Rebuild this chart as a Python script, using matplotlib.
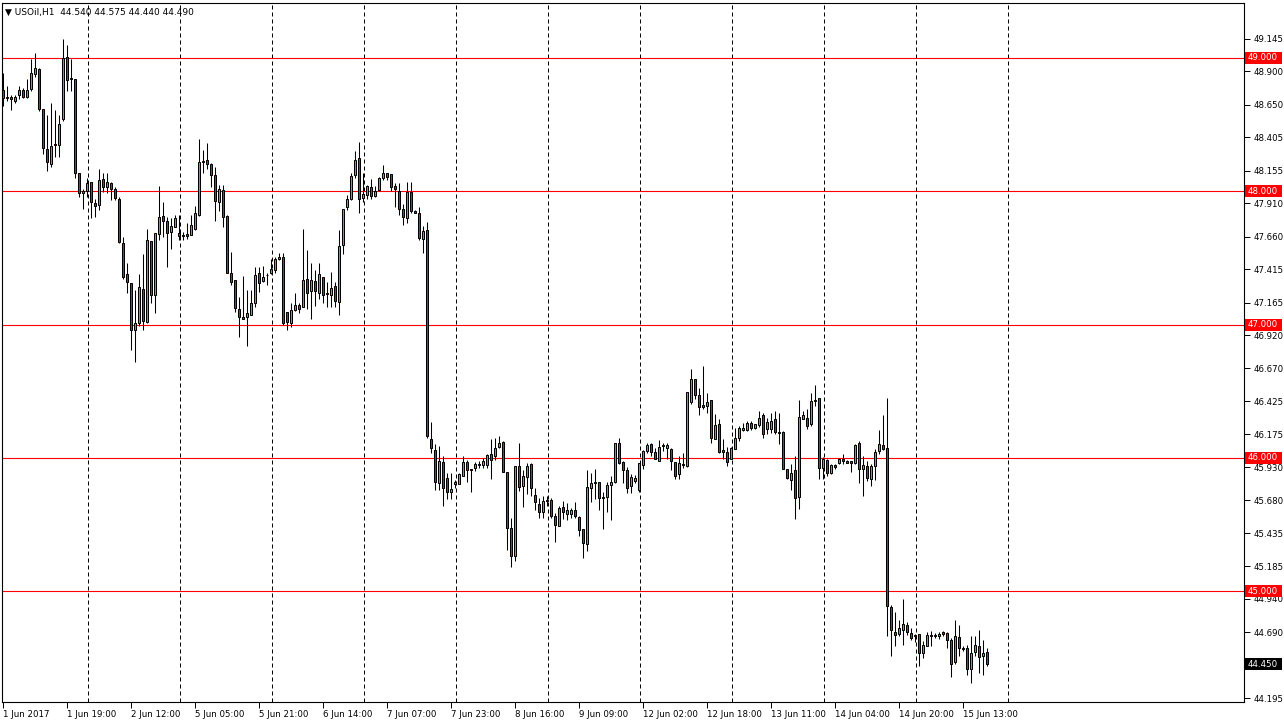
import numpy as np
import matplotlib
matplotlib.use("Agg")
import matplotlib.pyplot as plt
from matplotlib.patches import Rectangle

# ---------------- data (USOil H1) ----------------
opens = [48.76, 48.70, 48.705, 48.68, 48.72, 48.76, 48.71, 48.77, 48.88, 48.92,
         48.62, 48.32, 48.205, 48.355, 48.35, 48.54, 49.005, 48.85, 48.84, 48.135,
         47.99, 48.00, 48.07, 47.915, 47.90, 48.09, 48.035, 48.065, 48.015, 47.945,
         47.615, 47.38, 47.315, 46.955, 47.01, 47.27, 47.02, 47.625, 47.225, 47.68,
         47.815, 47.78, 47.695, 47.735, 47.69, 47.675, 47.68, 47.675, 47.715, 47.82,
         48.22, 48.235, 48.205, 48.12, 47.92, 48.01, 47.815, 47.385, 47.335, 47.12,
         47.06, 47.055, 47.075, 47.165, 47.39, 47.33, 47.375, 47.385, 47.41, 47.495,
         47.51, 47.095, 47.01, 47.11, 47.145, 47.135, 47.345, 47.25, 47.33, 47.24,
         47.355, 47.24, 47.22, 47.29, 47.17, 47.595, 47.88, 47.945, 48.12, 48.25,
         47.95, 47.97, 48.035, 47.965, 48.01, 48.10, 48.135, 48.13, 48.04, 48.005,
         47.87, 47.80, 47.995, 47.85, 47.84, 47.64, 47.71, 46.14, 46.06, 45.81,
         45.97, 45.85, 45.74, 45.80, 45.80, 45.865, 45.97, 45.915, 45.92, 45.945,
         45.945, 45.945, 46.03, 46.01, 46.08, 46.12, 45.89, 45.475, 45.265, 45.94,
         45.79, 45.855, 45.95, 45.72, 45.655, 45.595, 45.68, 45.685, 45.565, 45.49,
         45.632, 45.58, 45.575, 45.608, 45.558, 45.463, 45.35, 45.775, 45.808, 45.82,
         45.705, 45.708, 45.793, 45.818, 46.108, 45.97, 45.905, 45.788, 45.825, 45.758,
         45.943, 46.05, 46.10, 46.043, 45.975, 46.09, 46.073, 46.063, 45.97, 45.875,
         45.955, 45.938, 46.418, 46.588, 46.468, 46.393, 46.388, 46.43, 46.143, 46.25,
         46.058, 46.045, 45.993, 46.068, 46.145, 46.208, 46.208, 46.258, 46.225, 46.243,
         46.318, 46.218, 46.213, 46.288, 46.193, 46.193, 45.913, 45.833, 45.908, 45.708,
         46.293, 46.30, 46.25, 46.433, 46.45, 45.925, 45.983, 45.883, 45.943, 45.958,
         45.988, 45.973, 45.973, 45.958, 46.113, 45.912, 45.937, 45.842, 45.937, 46.05,
         46.093, 46.075, 44.88, 44.692, 44.679, 44.709, 44.747, 44.684, 44.667, 44.677,
         44.534, 44.589, 44.659, 44.667, 44.659, 44.692, 44.684, 44.634, 44.464, 44.654,
         44.571, 44.571, 44.414, 44.539, 44.589, 44.509, 44.54]
highs = [48.89, 48.79, 48.72, 48.725, 48.79, 48.775, 48.84, 48.99, 49.04, 48.925,
         48.62, 48.57, 48.66, 48.61, 48.575, 49.14, 49.10, 48.99, 48.84, 48.135,
         48.02, 48.10, 48.07, 47.94, 48.165, 48.135, 48.135, 48.07, 48.03, 47.96,
         47.655, 47.46, 47.315, 47.26, 47.38, 47.53, 47.715, 47.625, 47.685, 48.04,
         47.92, 47.805, 47.80, 47.82, 47.82, 47.695, 47.76, 47.82, 47.89, 48.39,
         48.31, 48.365, 48.21, 48.185, 48.05, 48.05, 47.82, 47.545, 47.335, 47.21,
         47.365, 47.26, 47.26, 47.435, 47.435, 47.44, 47.385, 47.49, 47.51, 47.54,
         47.54, 47.095, 47.165, 47.235, 47.165, 47.715, 47.56, 47.46, 47.41, 47.465,
         47.355, 47.32, 47.395, 47.32, 47.71, 47.87, 47.97, 48.14, 48.30, 48.37,
         48.135, 48.05, 48.09, 48.04, 48.11, 48.20, 48.14, 48.13, 48.06, 48.06,
         47.905, 48.07, 48.07, 47.86, 47.885, 47.74, 47.77, 46.265, 46.10, 46.09,
         46.01, 45.885, 45.885, 45.83, 45.885, 46.015, 45.985, 45.915, 45.97, 45.975,
         46.00, 46.03, 46.14, 46.15, 46.16, 46.125, 45.895, 45.55, 45.94, 46.11,
         45.91, 45.96, 45.96, 45.775, 45.70, 45.71, 45.71, 45.70, 45.585, 45.64,
         45.675, 45.66, 45.62, 45.668, 45.563, 45.463, 45.908, 45.883, 45.913, 45.82,
         45.74, 45.818, 45.863, 46.108, 46.15, 45.975, 45.93, 45.875, 45.868, 45.958,
         46.058, 46.108, 46.108, 46.075, 46.133, 46.108, 46.113, 46.075, 45.97, 46.013,
         46.038, 46.493, 46.663, 46.588, 46.525, 46.688, 46.488, 46.43, 46.325, 46.288,
         46.138, 46.083, 46.083, 46.225, 46.238, 46.263, 46.275, 46.275, 46.255, 46.35,
         46.333, 46.30, 46.338, 46.35, 46.338, 46.20, 45.918, 45.95, 46.013, 46.433,
         46.35, 46.368, 46.483, 46.543, 46.45, 46.008, 45.988, 45.95, 45.95, 46.00,
         46.025, 45.985, 45.975, 46.10, 46.125, 46.013, 45.975, 45.95, 46.063, 46.208,
         46.318, 46.451, 44.897, 44.84, 44.78, 44.942, 44.764, 44.722, 44.68, 44.677,
         44.622, 44.689, 44.697, 44.685, 44.692, 44.697, 44.689, 44.647, 44.784, 44.747,
         44.59, 44.596, 44.659, 44.659, 44.709, 44.634, 44.575]
lows = [48.64, 48.675, 48.61, 48.66, 48.69, 48.70, 48.70, 48.75, 48.86, 48.60,
        48.28, 48.15, 48.18, 48.26, 48.26, 48.53, 48.75, 48.75, 48.10, 47.96,
        47.87, 47.96, 47.80, 47.81, 47.86, 47.995, 47.985, 47.935, 47.935, 47.61,
        47.34, 47.24, 46.81, 46.715, 46.99, 46.96, 47.01, 47.16, 47.09, 47.635,
        47.66, 47.435, 47.565, 47.735, 47.635, 47.635, 47.645, 47.67, 47.71, 47.815,
        48.135, 48.17, 48.035, 47.78, 47.85, 47.73, 47.385, 47.30, 47.095, 46.905,
        47.045, 46.84, 47.07, 47.13, 47.245, 47.32, 47.295, 47.38, 47.39, 47.485,
        46.995, 46.96, 46.98, 47.105, 47.09, 47.135, 47.12, 47.045, 47.14, 47.195,
        47.16, 47.13, 47.13, 47.13, 47.07, 47.53, 47.86, 47.935, 48.10, 47.84,
        47.92, 47.945, 47.945, 47.96, 48.00, 48.085, 48.085, 48.005, 47.885, 47.82,
        47.75, 47.76, 47.835, 47.835, 47.635, 47.54, 46.15, 46.035, 45.755, 45.76,
        45.635, 45.69, 45.69, 45.77, 45.80, 45.86, 45.815, 45.74, 45.90, 45.925,
        45.925, 45.92, 45.84, 45.985, 46.075, 45.89, 45.31, 45.18, 45.225, 45.75,
        45.63, 45.725, 45.71, 45.61, 45.55, 45.55, 45.64, 45.55, 45.37, 45.49,
        45.54, 45.53, 45.55, 45.55, 45.413, 45.25, 45.30, 45.668, 45.688, 45.608,
        45.468, 45.593, 45.533, 45.813, 45.95, 45.808, 45.738, 45.738, 45.813, 45.743,
        45.918, 46.038, 46.013, 45.993, 45.975, 46.05, 45.988, 45.905, 45.843, 45.843,
        45.925, 45.933, 46.40, 46.443, 46.318, 46.368, 46.338, 46.113, 46.138, 46.038,
        45.988, 45.938, 45.988, 46.063, 46.125, 46.20, 46.20, 46.208, 46.213, 46.233,
        46.15, 46.175, 46.188, 46.175, 46.10, 45.913, 45.838, 45.758, 45.538, 45.618,
        46.288, 46.213, 46.238, 46.388, 45.838, 45.838, 45.863, 45.875, 45.913, 45.95,
        45.95, 45.958, 45.893, 45.95, 45.813, 45.712, 45.825, 45.787, 45.832, 46.025,
        46.058, 44.659, 44.514, 44.589, 44.659, 44.596, 44.671, 44.629, 44.62, 44.434,
        44.496, 44.584, 44.584, 44.65, 44.639, 44.66, 44.571, 44.358, 44.454, 44.509,
        44.55, 44.371, 44.306, 44.509, 44.383, 44.371, 44.44]
closes = [48.70, 48.71, 48.69, 48.71, 48.76, 48.71, 48.76, 48.89, 48.925, 48.62,
          48.325, 48.22, 48.34, 48.345, 48.505, 49.00, 48.835, 48.845, 48.14, 47.985,
          48.00, 48.06, 47.92, 47.89, 48.085, 48.035, 48.07, 48.02, 47.95, 47.62,
          47.36, 47.32, 46.955, 47.015, 47.28, 47.03, 47.635, 47.22, 47.685, 47.81,
          47.78, 47.685, 47.74, 47.80, 47.665, 47.665, 47.665, 47.745, 47.835, 48.22,
          48.225, 48.205, 48.12, 47.93, 48.015, 47.81, 47.39, 47.32, 47.125, 47.06,
          47.045, 47.085, 47.165, 47.375, 47.31, 47.36, 47.37, 47.415, 47.495, 47.505,
          47.01, 47.02, 47.11, 47.15, 47.12, 47.335, 47.24, 47.335, 47.255, 47.38,
          47.225, 47.23, 47.275, 47.18, 47.59, 47.87, 47.94, 48.115, 48.235, 47.945,
          47.98, 48.04, 47.965, 48.005, 48.10, 48.14, 48.11, 48.035, 48.015, 47.865,
          47.81, 47.995, 47.85, 47.84, 47.65, 47.70, 46.16, 46.07, 45.815, 45.975,
          45.775, 45.74, 45.765, 45.82, 45.875, 45.97, 45.905, 45.905, 45.955, 45.95,
          45.975, 46.02, 45.985, 46.075, 46.11, 45.895, 45.47, 45.26, 45.94, 45.78,
          45.86, 45.94, 45.775, 45.67, 45.595, 45.675, 45.675, 45.56, 45.495, 45.625,
          45.59, 45.61, 45.61, 45.563, 45.458, 45.358, 45.783, 45.813, 45.818, 45.70,
          45.70, 45.793, 45.82, 46.108, 45.963, 45.905, 45.775, 45.858, 45.85, 45.958,
          46.05, 46.093, 46.043, 45.993, 46.083, 46.093, 46.093, 45.975, 45.863, 45.958,
          45.943, 46.493, 46.588, 46.468, 46.383, 46.383, 46.42, 46.15, 46.243, 46.043,
          46.045, 45.968, 46.075, 46.15, 46.225, 46.225, 46.258, 46.225, 46.25, 46.30,
          46.18, 46.268, 46.275, 46.193, 46.183, 45.918, 45.85, 45.888, 45.70, 46.308,
          46.318, 46.238, 46.425, 46.425, 45.925, 45.988, 45.883, 45.943, 45.933, 45.993,
          45.973, 45.963, 45.958, 46.093, 45.913, 45.942, 45.85, 45.937, 46.045, 46.10,
          46.068, 44.885, 44.704, 44.672, 44.722, 44.752, 44.689, 44.647, 44.659, 44.534,
          44.597, 44.669, 44.672, 44.659, 44.679, 44.679, 44.634, 44.454, 44.659, 44.571,
          44.564, 44.414, 44.534, 44.597, 44.504, 44.534, 44.45]

price_ticks = [49.145, 48.900, 48.650, 48.405, 48.155, 47.910, 47.660, 47.415,
               47.165, 46.920, 46.670, 46.425, 46.175, 45.930, 45.680, 45.435,
               45.185, 44.940, 44.690, 44.195]
level_lines = [49.0, 48.0, 47.0, 46.0, 45.0]
bid_price = 44.450
time_labels = ["1 Jun 2017", "1 Jun 19:00", "2 Jun 12:00", "5 Jun 05:00",
               "5 Jun 21:00", "6 Jun 14:00", "7 Jun 07:00", "7 Jun 23:00",
               "8 Jun 16:00", "9 Jun 09:00", "12 Jun 02:00", "12 Jun 18:00",
               "13 Jun 11:00", "14 Jun 04:00", "14 Jun 20:00", "15 Jun 13:00"]
time_label_step = 16
separator_first, separator_step, separator_count = 21, 23, 11
header = "\u25BC USOil,H1  44.540 44.575 44.440 44.490"

# ---------------- layout ----------------
W, H = 1284, 722
fig = plt.figure(figsize=(W / 100, H / 100), dpi=100)
fig.patch.set_facecolor("white")
ax_l, ax_r, ax_t, ax_b = 2, 1244, 3, 702
ax = fig.add_axes([ax_l / W, 1 - ax_b / H, (ax_r - ax_l) / W, (ax_b - ax_t) / H])
px_per_bar = 4.0
xmin = -(3 - ax_l) / px_per_bar
xmax = xmin + (ax_r - ax_l) / px_per_bar
ppu = 133.25           # pixels per 1.0 price
ref_y = 58             # pixel row of 49.000
ymax = 49 + (ref_y - ax_t) / ppu
ymin = 49 - (ax_b - ref_y) / ppu
ax.set_xlim(xmin, xmax)
ax.set_ylim(ymin, ymax)

FONT = "DejaVu Sans"
FS = 6.2
bull, bear = "#1EDC1E", "#E81515"

n = len(opens)
xs = np.arange(n)
o = np.array(opens); c = np.array(closes)
hi = np.array(highs); lo = np.array(lows)

# separators and levels
for k in range(separator_count):
    ax.axvline(separator_first + k * separator_step + 0.25, color="black",
               lw=0.72, ls=(0, (4, 3)), zorder=1)
for lv in level_lines:
    ax.axhline(lv, color="#FF0000", lw=0.8, zorder=2)

# candles
ax.vlines(xs, lo, hi, color="black", lw=0.75, zorder=3)
bottoms = np.minimum(o, c)
heights = np.maximum(np.abs(c - o), 0.002)
colors = [bull if cc > oo else bear for oo, cc in zip(o, c)]
ax.bar(xs, heights, bottom=bottoms, width=0.5, color=colors,
       edgecolor="black", linewidth=0.72, zorder=4)

# axes styling
for s in ax.spines.values():
    s.set_color("black")
    s.set_linewidth(0.8)
ax.yaxis.tick_right()
ax.set_yticks(price_ticks)
ax.set_yticklabels([f"{v:.3f}" for v in price_ticks], fontsize=FS, family=FONT)
ax.tick_params(axis="y", direction="out", length=4, width=0.7, pad=3, colors="black")

xt = list(range(0, time_label_step * len(time_labels), time_label_step))
ax.set_xticks(xt)
ax.set_xticklabels(time_labels, fontsize=FS, family=FONT)
for lab in ax.get_xticklabels():
    lab.set_horizontalalignment("left")
ax.tick_params(axis="x", direction="out", length=4, width=0.7, pad=2, colors="black")

# price boxes on the right scale
def price_box(p, fc):
    ypix = ref_y + (49 - p) * ppu
    fy = 1 - ypix / H
    bh = 12 / H
    fig.add_artist(Rectangle((1245 / W, fy - bh / 2), 37 / W, bh,
                             transform=fig.transFigure, facecolor=fc,
                             edgecolor="none", zorder=10))
    fig.text(1248 / W, fy, f"{p:.3f}", color="white", fontsize=FS, family=FONT,
             va="center", ha="left", zorder=11)

for lv in level_lines:
    price_box(lv, "#FF0000")
price_box(bid_price, "black")

fig.text(5 / W, 1 - 12 / H, header, fontsize=6.5, family=FONT,
         va="center", ha="left", color="black")

fig.savefig("out.png", dpi=100, facecolor="white")
